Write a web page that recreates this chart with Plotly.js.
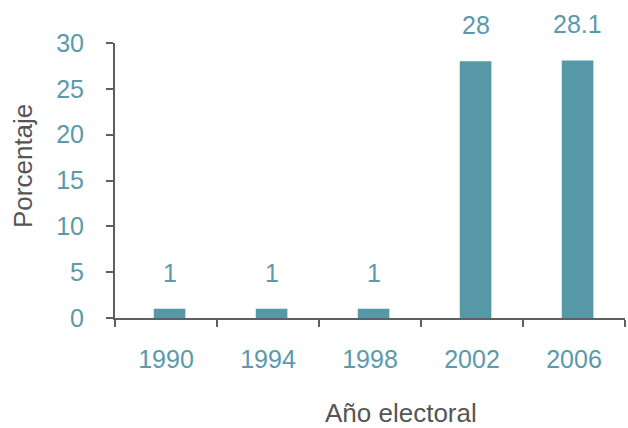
<!DOCTYPE html>
<html><head><meta charset="utf-8">
<script src="https://cdn.plot.ly/plotly-3.0.1.min.js"></script>
<style>html,body{margin:0;padding:0;background:#fff}</style>
</head><body>
<div id="chart" style="width:628px;height:428px"></div>
<script>
const years = ["1990", "1994", "1998", "2002", "2006"];
const values = [1, 1, 1, 28, 28.1];
const labels = ["1", "1", "1", "28", "28.1"];
const xTitle = "Año electoral";
const yTitle = "Porcentaje";

const teal = "#5698a8";
const textTeal = "#5a9aab";
const titleGray = "#555555";
const font = "Liberation Sans, Arial, sans-serif";

const trace = {
  type: "bar",
  x: years,
  y: values,
  marker: {color: teal},
  width: 0.31,
  offset: -0.12,
  hoverinfo: "skip"
};

const annotations = years.map((yr, i) => ({
  x: i + 0.035, y: values[i], text: labels[i], showarrow: false,
  xref: "x", yref: "y",
  yanchor: "bottom", yshift: 20,
  font: {family: font, size: 25, color: textTeal}
}));
annotations.push({
  xref: "paper", yref: "paper", x: (401 - 115) / 510, y: -95 / 275,
  xanchor: "center", yanchor: "middle", showarrow: false, height: 28, borderpad: 0,
  text: xTitle, font: {family: font, size: 26, color: titleGray}
});
annotations.push({
  xref: "paper", yref: "paper", x: -92 / 510, y: (318 - 166) / 275,
  xanchor: "center", yanchor: "middle", showarrow: false, textangle: -90,
  text: yTitle, font: {family: font, size: 26, color: titleGray}
});

const layout = {
  width: 628, height: 428,
  margin: {l: 115, r: 3, t: 43, b: 110},
  paper_bgcolor: "#fff", plot_bgcolor: "#fff",
  showlegend: false,
  xaxis: {
    type: "category",
    range: [-0.5, years.length - 0.5],
    tickson: "boundaries",
    ticks: "outside", ticklen: 7, tickwidth: 2, tickcolor: "#5f5f5f",
    showline: true, linecolor: "#5f5f5f", linewidth: 2,
    showgrid: false, zeroline: false,
    ticklabelstandoff: 18,
    tickfont: {family: font, size: 25, color: textTeal}
  },
  yaxis: {
    range: [0, 30], tickvals: [0, 5, 10, 15, 20, 25, 30],
    ticks: "outside", ticklen: 7, tickwidth: 2, tickcolor: "#5f5f5f",
    showline: true, linecolor: "#5f5f5f", linewidth: 2,
    showgrid: false, zeroline: false,
    ticklabelstandoff: 17,
    tickfont: {family: font, size: 25, color: textTeal}
  },
  annotations: annotations
};

Plotly.newPlot("chart", [trace], layout, {displayModeBar: false, staticPlot: true});
</script>
</body></html>
